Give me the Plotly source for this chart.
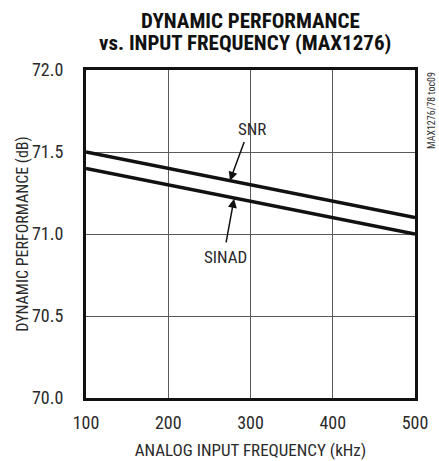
import plotly.graph_objects as go

freq_khz = [100, 500]
snr_db = [71.5, 71.1]
sinad_db = [71.4, 71.0]
x_ticks = [100, 200, 300, 400, 500]
y_ticks = [70.0, 70.5, 71.0, 71.5, 72.0]
y_tick_labels = ["70.0", "70.5", "71.0", "71.5", "72.0"]

FONT = "Liberation Sans Narrow, Roboto Condensed, Arial Narrow, sans-serif"
TXT = "#2a2a2a"

fig = go.Figure()
fig.add_trace(go.Scatter(x=freq_khz, y=snr_db, mode="lines",
                         line=dict(color="#111111", width=3.5), showlegend=False))
fig.add_trace(go.Scatter(x=freq_khz, y=sinad_db, mode="lines",
                         line=dict(color="#111111", width=3.5), showlegend=False))

fig.add_annotation(x=275, y=71.325, ax=293, ay=71.57, xref="x", yref="y", axref="x", ayref="y",
                   text="", showarrow=True, arrowhead=2, arrowsize=1.2, arrowwidth=1.5,
                   arrowcolor="#111111")
fig.add_annotation(x=302, y=71.64, text="SNR", showarrow=False,
                   font=dict(family=FONT, size=17, color=TXT))
fig.add_annotation(x=280, y=71.215, ax=270, ay=70.94, xref="x", yref="y", axref="x", ayref="y",
                   text="", showarrow=True, arrowhead=2, arrowsize=1.2, arrowwidth=1.5,
                   arrowcolor="#111111")
fig.add_annotation(x=269, y=70.86, text="SINAD", showarrow=False,
                   font=dict(family=FONT, size=17, color=TXT))
fig.add_annotation(x=1.0, y=1.0, xref="paper", yref="paper", xanchor="left", yanchor="top",
                   xshift=9, text="MAX1276/78 toc09", textangle=-90, showarrow=False,
                   font=dict(family=FONT, size=10, color="#333333"))
fig.add_annotation(x=250, y=21, xref="paper", yref="paper", xanchor="center", yanchor="middle",
                   text="<b>DYNAMIC PERFORMANCE</b>",
                   showarrow=False, font=dict(family=FONT, size=21, color="#111111"))
fig.add_annotation(x=245, y=43, xref="paper", yref="paper", xanchor="center", yanchor="middle",
                   text="<b>vs. INPUT FREQUENCY (MAX1276)</b>",
                   showarrow=False, font=dict(family=FONT, size=21, color="#111111"))

# convert pixel positions for the two title annotations
W, H = 439, 461
ML, MR, MT, MB = 86, 24, 70, 63
pw, ph = W - ML - MR, H - MT - MB
for ann in fig.layout.annotations[-2:]:
    px, py = ann.x, ann.y
    ann.x = (px - ML) / pw
    ann.y = (H - MB - py) / ph

fig.update_layout(
    width=W, height=H,
    margin=dict(l=ML, r=MR, t=MT, b=MB, autoexpand=False),
    paper_bgcolor="white", plot_bgcolor="white",
    font=dict(family=FONT, size=18, color=TXT),
)
fig.update_xaxes(range=[100, 500], tickvals=x_ticks, showgrid=True, gridcolor="#5a5a5a", gridwidth=1.2,
                 showline=True, linecolor="#111111", linewidth=3, mirror=True, ticks="",
                 ticklabelstandoff=6, zeroline=False, tickfont=dict(size=18), automargin=False,
                 title=dict(text="ANALOG INPUT FREQUENCY (kHz)", standoff=13,
                            font=dict(family=FONT, size=17, color=TXT)))
fig.update_yaxes(range=[70.0, 72.0], tickvals=y_ticks, ticktext=y_tick_labels, showgrid=True,
                 gridcolor="#5a5a5a", gridwidth=1.2, showline=True, linecolor="#111111", linewidth=3,
                 mirror=True, ticks="", ticklabelstandoff=16, zeroline=False, tickfont=dict(size=18),
                 automargin=False,
                 title=dict(text="DYNAMIC PERFORMANCE (dB)", standoff=0,
                            font=dict(family=FONT, size=16, color=TXT)))

fig.write_html("out.html", config={"displayModeBar": False},
               post_script="document.body.style.margin='0px';")
